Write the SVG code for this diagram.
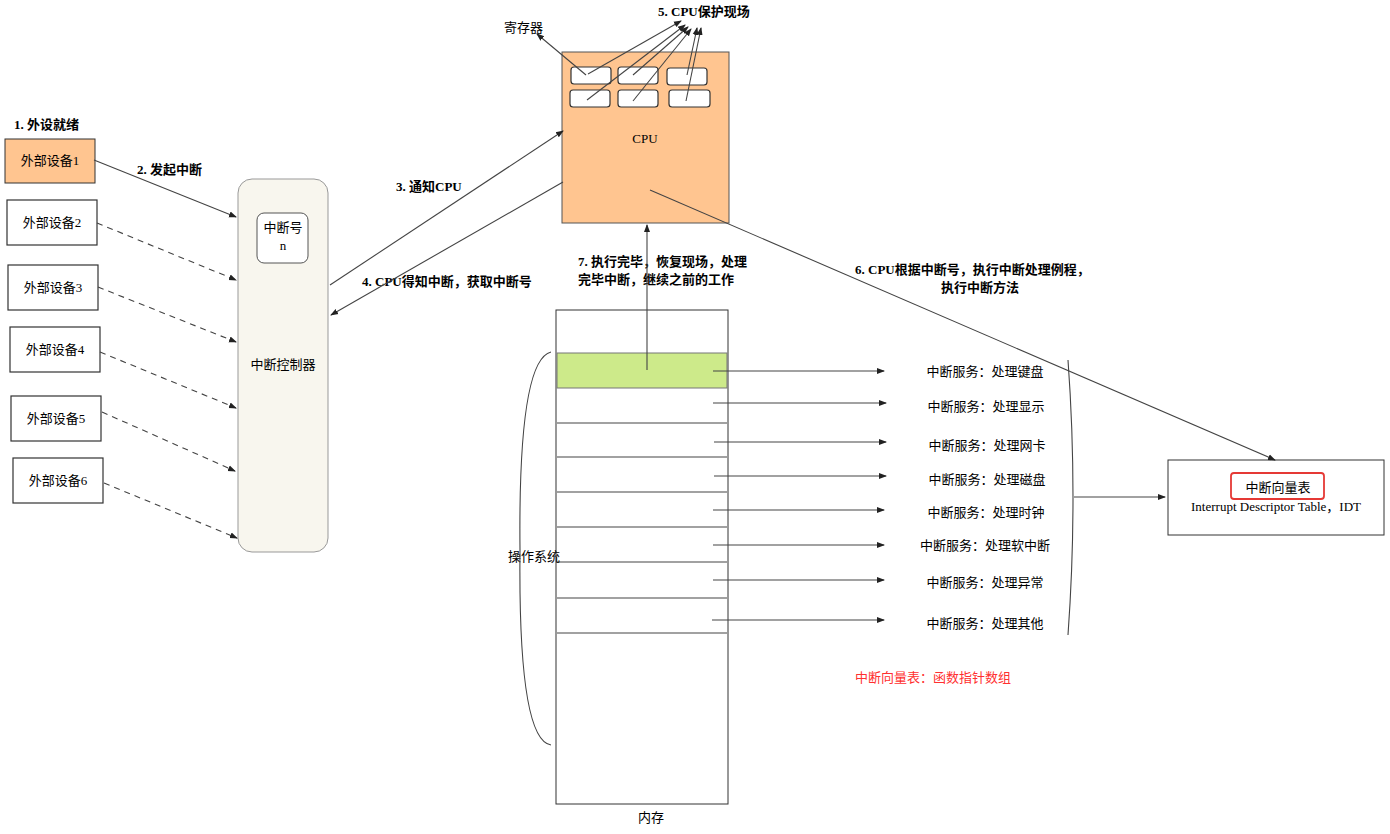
<svg xmlns="http://www.w3.org/2000/svg" width="1390" height="834" viewBox="0 0 1390 834">
<style>
text{font-family:"Liberation Serif","Noto Sans CJK SC",serif;font-size:13px;fill:#000}
.b{font-weight:bold}
.box{fill:#fff;stroke:#333;stroke-width:1.2}
.ln{stroke:#444;stroke-width:1.1;fill:none}
.d{stroke-dasharray:6 5}
</style>
<defs><marker id="a" markerWidth="8" markerHeight="8" refX="7" refY="4" orient="auto" markerUnits="userSpaceOnUse"><path d="M0,1 L8,4 L0,7 z" fill="#222"/></marker></defs>
<rect width="1390" height="834" fill="#fff"/>
<text x="14" y="129" class="b">1. 外设就绪</text>
<g id="dev1"><rect x="5" y="139" width="90" height="44" fill="#FFC590" stroke="#333"/><text x="50" y="165" text-anchor="middle">外部设备1</text></g>
<g id="dev2"><rect class="box" x="7" y="200" width="90" height="45"/><text x="52" y="227" text-anchor="middle">外部设备2</text></g>
<g id="dev3"><rect class="box" x="8" y="265" width="90" height="45"/><text x="53" y="292" text-anchor="middle">外部设备3</text></g>
<g id="dev4"><rect class="box" x="10" y="327" width="90" height="45"/><text x="55" y="354" text-anchor="middle">外部设备4</text></g>
<g id="dev5"><rect class="box" x="11" y="396" width="90" height="45"/><text x="56" y="423" text-anchor="middle">外部设备5</text></g>
<g id="dev6"><rect class="box" x="13" y="458" width="90" height="45"/><text x="58" y="485" text-anchor="middle">外部设备6</text></g>
<g id="ctrl"><rect x="238" y="179" width="90" height="373" rx="14" fill="#F8F6EE" stroke="#999"/><rect x="257" y="213" width="51" height="50" rx="7" fill="#fff" stroke="#555"/><text x="283" y="232" text-anchor="middle">中断号</text><text x="283" y="250" text-anchor="middle" font-size="11">n</text><text x="283" y="369" text-anchor="middle">中断控制器</text></g>
<g id="cpu"><rect x="562" y="52" width="167" height="171" fill="#FFC590" stroke="#555"/>
<rect class="box" x="571" y="67" width="40" height="17" rx="3"/><rect class="box" x="618" y="67" width="40" height="17" rx="3"/><rect class="box" x="667" y="68" width="40" height="17" rx="3"/>
<rect class="box" x="570" y="90" width="40" height="17" rx="3"/><rect class="box" x="618" y="90" width="40" height="17" rx="3"/><rect class="box" x="669" y="90" width="41" height="17" rx="3"/>
<text x="645" y="143" text-anchor="middle">CPU</text></g>
<text x="504" y="32">寄存器</text>
<text x="658" y="16" class="b">5. CPU保护现场</text>
<g id="mem"><rect x="556" y="310" width="172" height="494" fill="#fff" stroke="#333"/>
<rect x="557" y="353" width="170" height="35" fill="#CDEA8A" stroke="#777"/>
<path class="ln" d="M557,423H727M557,457H727M557,492H727M557,527H727M557,562H727M557,598H727M557,633H727"/>
<text x="651" y="822" text-anchor="middle">内存</text></g>
<g id="idt"><rect x="1168" y="460" width="216" height="75" fill="#fff" stroke="#333"/><rect x="1231" y="473" width="93" height="26" rx="3" fill="none" stroke="#E53935" stroke-width="1.8"/><text x="1278" y="492" text-anchor="middle">中断向量表</text><text x="1276" y="511" text-anchor="middle" font-size="12">Interrupt Descriptor Table，IDT</text></g>
<g id="svc" text-anchor="middle">
<text x="985" y="376">中断服务：处理键盘</text><text x="986" y="411">中断服务：处理显示</text><text x="987" y="450">中断服务：处理网卡</text><text x="987" y="484">中断服务：处理磁盘</text><text x="986" y="517">中断服务：处理时钟</text><text x="985" y="550">中断服务：处理软中断</text><text x="985" y="587">中断服务：处理异常</text><text x="985" y="628">中断服务：处理其他</text></g>
<text x="508" y="561">操作系统</text>
<text x="933" y="682" text-anchor="middle" font-size="22" style="fill:#FF3030">中断向量表：函数指针数组</text>
<text x="137" y="174" class="b">2. 发起中断</text>
<text x="396" y="191" class="b">3. 通知CPU</text>
<text x="362" y="286" class="b">4. CPU得知中断，获取中断号</text>
<text x="578" y="266" class="b">7. 执行完毕，恢复现场，处理</text>
<text x="578" y="284" class="b">完毕中断，继续之前的工作</text>
<text x="855" y="274" class="b">6. CPU根据中断号，执行中断处理例程，</text>
<text x="941" y="292" class="b">执行中断方法</text>
<g id="conn" class="ln">
<path d="M94,160L236,217" marker-end="url(#a)"/>
<path class="d" d="M97,223L236,280" marker-end="url(#a)"/>
<path class="d" d="M98,287L236,342" marker-end="url(#a)"/>
<path class="d" d="M100,352L236,408" marker-end="url(#a)"/>
<path class="d" d="M102,412L235,471" marker-end="url(#a)"/>
<path class="d" d="M104,483L237,538" marker-end="url(#a)"/>
<path d="M330,285L563,131" marker-end="url(#a)"/>
<path d="M563,182L331,315" marker-end="url(#a)"/>
<path d="M586,75L537,34" marker-end="url(#a)"/>
<path d="M588,74L681,21" marker-end="url(#a)"/>
<path d="M587,100L685,25" marker-end="url(#a)"/>
<path d="M633,75L688,27" marker-end="url(#a)"/>
<path d="M633,101L691,29" marker-end="url(#a)"/>
<path d="M687,75L697,28" marker-end="url(#a)"/>
<path d="M686,101L701,28" marker-end="url(#a)"/>
<path d="M647,370L647,225" marker-end="url(#a)"/>
<path d="M650,190L1275,460" marker-end="url(#a)"/>
<path d="M713,371H884" marker-end="url(#a)"/>
<path d="M713,403H886" marker-end="url(#a)"/>
<path d="M714,442H886" marker-end="url(#a)"/>
<path d="M714,476H886" marker-end="url(#a)"/>
<path d="M713,510H884" marker-end="url(#a)"/>
<path d="M713,545H884" marker-end="url(#a)"/>
<path d="M713,580H884" marker-end="url(#a)"/>
<path d="M712,620H884" marker-end="url(#a)"/>
<path d="M1068,360Q1078,497 1068,635M1074,497H1165" marker-end="url(#a)"/>
<path d="M551,352Q518,360 520,550Q518,740 551,745"/>
</g>
</svg>
